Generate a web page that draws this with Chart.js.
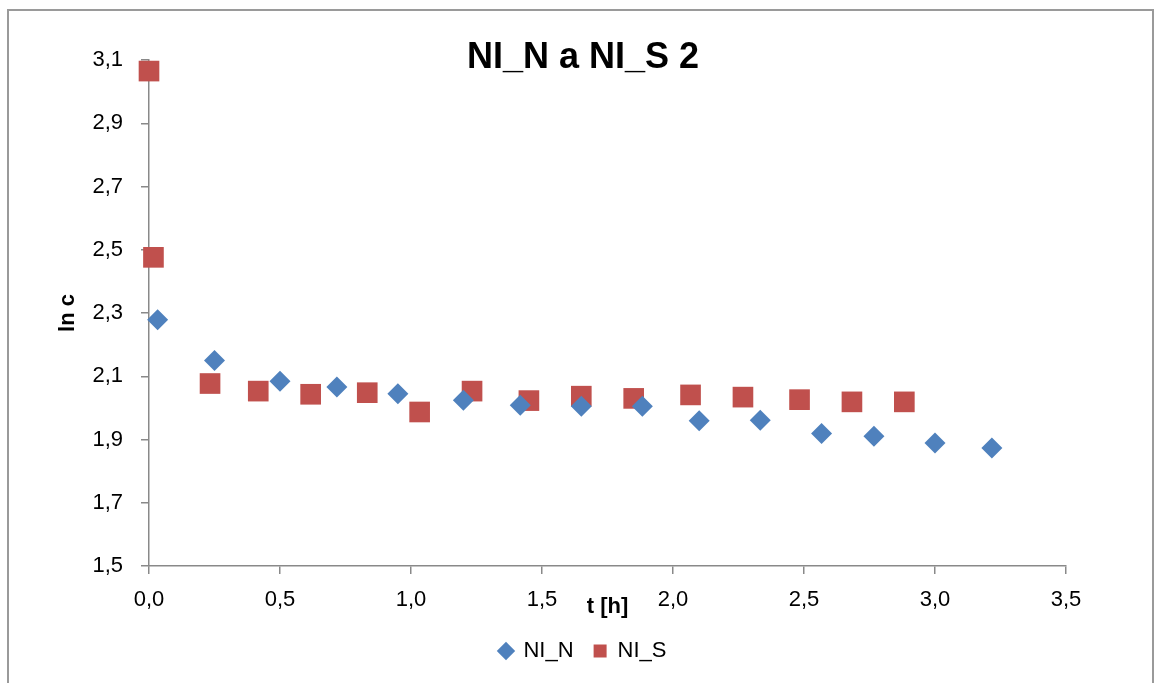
<!DOCTYPE html>
<html>
<head>
<meta charset="utf-8">
<script src="https://cdn.jsdelivr.net/npm/chart.js@4.4.1/dist/chart.umd.min.js"></script>
<style>
  html, body { margin: 0; padding: 0; background: #fff; overflow: hidden; }
  #frame { position: absolute; left: 7px; top: 9px; width: 1143px; height: 700px; border: 2px solid #9a9a9a; }
  #c { position: absolute; left: 0; top: 0; }
</style>
</head>
<body>
<div id="frame"></div>
<canvas id="c" width="1157" height="683"></canvas>
<script>
// time [h] and ln c for both series
var tN = [0.033, 0.25, 0.5, 0.717, 0.95, 1.2, 1.417, 1.65, 1.883, 2.1, 2.333, 2.567, 2.767, 3.0, 3.217];
var lnN = [2.279, 2.150, 2.084, 2.066, 2.045, 2.024, 2.008, 2.005, 2.005, 1.959, 1.961, 1.919, 1.910, 1.889, 1.873];
var tS = [0, 0.017, 0.233, 0.417, 0.617, 0.833, 1.033, 1.233, 1.45, 1.65, 1.85, 2.067, 2.267, 2.483, 2.683, 2.883];
var lnS = [3.065, 2.476, 2.077, 2.053, 2.043, 2.048, 1.987, 2.053, 2.023, 2.037, 2.030, 2.041, 2.034, 2.026, 2.019, 2.019];

var seriesNames = ['NI_N', 'NI_S'];
var xTicks = [0, 0.5, 1.0, 1.5, 2.0, 2.5, 3.0, 3.5];
var yTicks = [1.5, 1.7, 1.9, 2.1, 2.3, 2.5, 2.7, 2.9, 3.1];

function pairs(xs, ys) {
  return xs.map(function (x, i) { return { x: x, y: ys[i] }; });
}
function comma(v) {
  return v.toFixed(1).replace('.', ',');
}

var axisColor = '#898989';
var FONT = 'Liberation Sans, Arial, sans-serif';

var chart = new Chart(document.getElementById('c').getContext('2d'), {
  type: 'scatter',
  data: {
    datasets: [{
      label: seriesNames[0],
      data: pairs(tN, lnN),
      pointStyle: 'rectRot',
      pointRadius: 10.5,
      pointHoverRadius: 10.5,
      backgroundColor: '#4F81BD',
      borderColor: '#4F81BD',
      borderWidth: 0,
      clip: false
    }, {
      label: seriesNames[1],
      data: pairs(tS, lnS),
      pointStyle: 'rect',
      pointRadius: 14.6,
      pointHoverRadius: 14.6,
      backgroundColor: '#C0504D',
      borderColor: '#C0504D',
      borderWidth: 0,
      clip: false
    }]
  },
  options: {
    responsive: false,
    animation: false,
    layout: { padding: { left: 80, right: 71, top: 0, bottom: 11 } },
    plugins: {
      tooltip: { enabled: false },
      title: {
        display: true,
        text: 'NI_N a NI_S 2',
        color: '#000',
        font: { family: FONT, size: 36, weight: 'bold', lineHeight: 1.2 },
        padding: { top: 36, bottom: -19.2 }
      },
      legend: {
        position: 'bottom',
        labels: {
          usePointStyle: true,
          boxWidth: 13,
          boxHeight: 13,
          padding: 20,
          color: '#000',
          font: { family: FONT, size: 22 }
        }
      }
    },
    scales: {
      x: {
        type: 'linear',
        min: 0,
        max: 3.5,
        afterBuildTicks: function (s) { s.ticks = xTicks.map(function (v) { return { value: v }; }); },
        afterFit: function (s) { s.height = 54; },
        ticks: {
          padding: 13,
          color: '#000',
          font: { family: FONT, size: 22 },
          callback: function (v) { return comma(v); }
        },
        grid: { drawOnChartArea: false, drawTicks: true, tickLength: 8, color: axisColor, lineWidth: 1.5 },
        border: { display: true, color: axisColor, width: 1.5 },
        title: {
          display: true,
          text: 't [h]',
          color: '#000',
          font: { family: FONT, size: 22, weight: 'bold', lineHeight: 1.2 },
          padding: { top: 0, bottom: 0 }
        }
      },
      y: {
        type: 'linear',
        min: 1.5,
        max: 3.1,
        afterBuildTicks: function (s) { s.ticks = yTicks.map(function (v) { return { value: v }; }); },
        afterFit: function (s) { s.width = 69; },
        ticks: {
          padding: 18,
          color: '#000',
          font: { family: FONT, size: 22 },
          callback: function (v) { return comma(v); }
        },
        grid: { drawOnChartArea: false, drawTicks: true, tickLength: 8, color: axisColor, lineWidth: 1.5 },
        border: { display: true, color: axisColor, width: 1.5 },
        title: {
          display: true,
          text: 'ln c',
          color: '#000',
          font: { family: FONT, size: 22, weight: 'bold', lineHeight: 1.2 },
          padding: { top: -25.2, bottom: 0 }
        }
      },
      // empty spacer on the right so the plot ends at 3,5 while title/legend stay centred
      spacer: {
        type: 'linear',
        position: 'right',
        display: true,
        afterFit: function (s) { s.width = 20; },
        ticks: { display: false },
        grid: { display: false },
        border: { display: false }
      }
    }
  }
});
</script>
</body>
</html>
